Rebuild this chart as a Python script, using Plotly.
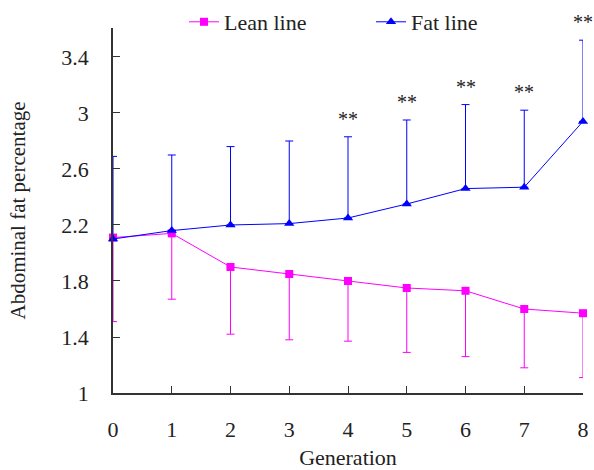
import plotly.graph_objects as go

generations = [0, 1, 2, 3, 4, 5, 6, 7, 8]
lean_mean = [2.11, 2.14, 1.90, 1.85, 1.80, 1.75, 1.73, 1.60, 1.57]
lean_sd = [0.60, 0.47, 0.48, 0.47, 0.43, 0.46, 0.47, 0.42, 0.46]
fat_mean = [2.10, 2.16, 2.20, 2.21, 2.25, 2.35, 2.46, 2.47, 2.94]
fat_sd = [0.59, 0.54, 0.56, 0.59, 0.58, 0.60, 0.60, 0.55, 0.58]
sig_labels = ["", "", "", "", "**", "**", "**", "**", "**"]

font_family = "Liberation Serif, Times New Roman, serif"
MAGENTA = "#FF00FF"
BLUE = "#0000FF"

fig = go.Figure()

fig.add_trace(go.Scatter(
    x=generations, y=lean_mean, name="Lean line", mode="lines+markers",
    line=dict(color=MAGENTA, width=1),
    marker=dict(symbol="square", size=8, color=MAGENTA),
    error_y=dict(type="data", symmetric=False, array=[0]*len(lean_sd),
                 arrayminus=lean_sd, color=MAGENTA, thickness=1, width=4),
    cliponaxis=False,
))

fig.add_trace(go.Scatter(
    x=generations, y=fat_mean, name="Fat line", mode="lines+markers",
    line=dict(color=BLUE, width=1),
    marker=dict(symbol="triangle-up", size=9, color=BLUE),
    error_y=dict(type="data", symmetric=False, array=fat_sd,
                 arrayminus=[0]*len(fat_sd), color=BLUE, thickness=1, width=4),
    cliponaxis=False,
))

# significance markers above the fat-line error bars
for g, m, s, lab in zip(generations, fat_mean, fat_sd, sig_labels):
    if lab:
        fig.add_annotation(x=g, y=m + s, text=lab, showarrow=False,
                           yanchor="bottom", yshift=5,
                           font=dict(family=font_family, size=20, color="#222222"))

axis_common = dict(
    showline=True, linecolor="#333333", linewidth=1.5,
    ticks="inside", ticklen=7, tickcolor="#333333", tickwidth=1.2,
    showgrid=False, zeroline=False, automargin=False,
    tickfont=dict(family=font_family, size=22, color="#222222"),
)

fig.update_layout(
    width=594, height=470,
    margin=dict(l=113, r=11, t=28, b=77, autoexpand=False),
    paper_bgcolor="white", plot_bgcolor="white",
    font=dict(family=font_family, color="#222222"),
    xaxis=dict(range=[0, 8], tickvals=generations, ticktext=[str(g) for g in generations],
               title=dict(text="Generation", font=dict(family=font_family, size=22), standoff=10),
               ticklabelstandoff=16, **axis_common),
    yaxis=dict(range=[1, 3.607], tickvals=[1, 1.4, 1.8, 2.2, 2.6, 3, 3.4],
               ticktext=["1", "1.4", "1.8", "2.2", "2.6", "3", "3.4"],
               title=dict(text="Abdominal fat percentage", font=dict(family=font_family, size=21), standoff=30),
               ticklabelstandoff=18, **axis_common),
    legend=dict(orientation="h", xref="container", yref="container",
                x=184/594, xanchor="left", y=1 - 22/470, yanchor="middle",
                font=dict(family=font_family, size=22, color="#222222"),
                entrywidth=142, entrywidthmode="pixels", bgcolor="rgba(0,0,0,0)"),
    showlegend=True,
)

fig.write_html("out.html", config={"displayModeBar": False},
               post_script="document.body.style.margin='0';document.body.style.overflow='hidden';")
